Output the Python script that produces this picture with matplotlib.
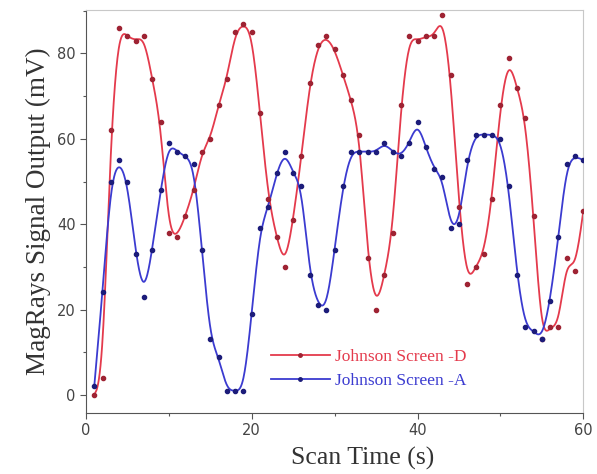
import numpy as np
import matplotlib
matplotlib.use("Agg")
import matplotlib.pyplot as plt
from matplotlib.ticker import MultipleLocator

# scan time (s) and the two signal series (mV)
t = np.arange(1, 61)
screen_d = [0, 4, 62, 86, 84, 83, 84, 74, 64, 38,
            37, 42, 48, 57, 60, 68, 74, 85, 87, 85,
            66, 46, 37, 30, 41, 56, 73, 82, 84, 81,
            75, 69, 61, 32, 20, 28, 38, 68, 84, 83,
            84, 84, 89, 75, 44, 26, 30, 33, 46, 68,
            79, 72, 65, 42, 13, 16, 16, 32, 29, 43]
screen_a = [2, 24, 50, 55, 50, 33, 23, 34, 48, 59,
            57, 56, 54, 34, 13, 9, 1, 1, 1, 19,
            39, 44, 52, 57, 52, 49, 28, 21, 20, 34,
            49, 57, 57, 57, 57, 59, 57, 56, 59, 64,
            58, 53, 51, 39, 40, 55, 61, 61, 61, 60,
            49, 28, 16, 15, 13, 22, 37, 54, 56, 55]

RED, RED_DOT = "#e43a4c", "#9e2333"
BLUE, BLUE_DOT = "#3b3bd0", "#1c1c7a"


def bspline(px, py, steps=20):
    # uniform cubic B-spline using the points as control points (ends clamped)
    px = np.concatenate([[px[0]] * 2, px, [px[-1]] * 2]).astype(float)
    py = np.concatenate([[py[0]] * 2, py, [py[-1]] * 2]).astype(float)
    u = np.linspace(0, 1, steps, endpoint=False)
    b0 = (1 - u) ** 3 / 6
    b1 = (3 * u**3 - 6 * u**2 + 4) / 6
    b2 = (-3 * u**3 + 3 * u**2 + 3 * u + 1) / 6
    b3 = u**3 / 6
    xs, ys = [], []
    for j in range(len(px) - 3):
        xs.append(b0 * px[j] + b1 * px[j + 1] + b2 * px[j + 2] + b3 * px[j + 3])
        ys.append(b0 * py[j] + b1 * py[j + 1] + b2 * py[j + 2] + b3 * py[j + 3])
    xs.append([px[-1]])
    ys.append([py[-1]])
    return np.concatenate(xs), np.concatenate(ys)


fig = plt.figure(figsize=(5.97, 4.74), dpi=100)
ax = fig.add_axes([0.144, 0.129, 0.833, 0.850])

for y, col, dot, lab in [(screen_d, RED, RED_DOT, "Johnson Screen -D"),
                         (screen_a, BLUE, BLUE_DOT, "Johnson Screen -A")]:
    xs, ys = bspline(t, y)
    ax.plot(xs, ys, color=col, lw=1.3, zorder=2)
    ax.plot(t, y, ls="none", marker="o", ms=3, mfc=dot, mec=dot, zorder=3)
    ax.plot([], [], color=col, lw=1.3, marker="o", ms=2.5, mfc=dot, mec=dot,
            label=lab)

ax.set_xlim(0, 60)
ax.set_ylim(-4.2, 90.2)
ax.xaxis.set_major_locator(MultipleLocator(20))
ax.xaxis.set_minor_locator(MultipleLocator(10))
ax.yaxis.set_major_locator(MultipleLocator(20))
ax.yaxis.set_minor_locator(MultipleLocator(10))
ax.tick_params(which="major", direction="out", length=4, width=0.8,
               colors="#555555", labelsize=10.5, labelcolor="#444444")
ax.tick_params(which="minor", direction="out", length=2.5, width=0.8,
               colors="#555555")
for s in ["left", "bottom"]:
    ax.spines[s].set_color("#555555")
for s in ["top", "right"]:
    ax.spines[s].set_color("#c8c8c8")

serif = ["Liberation Serif", "DejaVu Serif"]
ax.set_xlabel("Scan Time (s)", family=serif, fontsize=18.5, color="#333333")
ax.xaxis.set_label_coords(0.557, -0.085)
ax.set_ylabel("MagRays Signal Output (mV)", family=serif, fontsize=19.5,
              color="#333333", labelpad=4)

leg = ax.legend(loc="lower left", bbox_to_anchor=(0.34, 0.02), frameon=False,
                numpoints=1, handlelength=3.4, handletextpad=0.3,
                labelspacing=0.45, prop={"family": serif, "size": 12.5})
for txt, col in zip(leg.get_texts(), [RED, BLUE]):
    txt.set_color(col)

fig.savefig("out.png", dpi=100)
